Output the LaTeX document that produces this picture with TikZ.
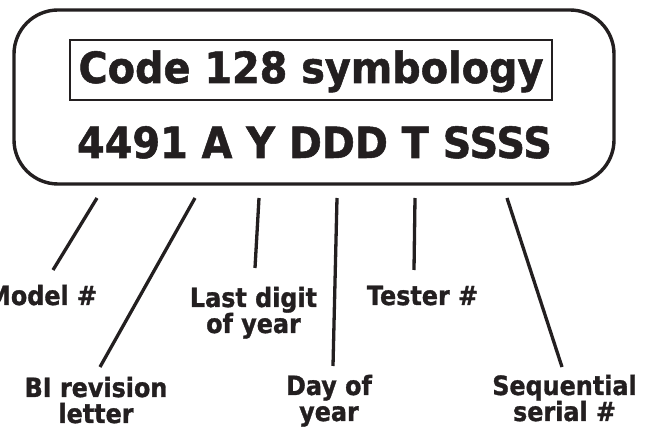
\documentclass[tikz,border=0pt]{standalone}
\usepackage{fontspec}
\setmainfont{DejaVu Sans}
\newfontfamily\lblfont[FakeStretch=0.9,FakeBold=1.2]{DejaVu Sans}
\newfontfamily\bigfont[FakeStretch=0.925,FakeBold=1.2]{DejaVu Sans}
\definecolor{ink}{HTML}{231F20}
\begin{document}
\begin{tikzpicture}[x=1pt,y=-1pt,
  every node/.style={text=ink, inner sep=0pt, outer sep=0pt},
  bigtext/.style={font=\bigfont\bfseries\fontsize{43}{43}\selectfont},
  lbl/.style={font=\lblfont\bfseries\fontsize{26.5}{26}\selectfont, align=center},
  leader/.style={draw=ink, line width=3.3pt},
]
\useasboundingbox[fill=white] (0,0) rectangle (654,430);
% outer rounded box
\draw[draw=ink, line width=3.4pt, rounded corners=44pt] (14,10) rectangle (614,184);
% title
\node[draw=ink, line width=1.2pt, minimum width=482pt, minimum height=60pt] (titlebox) at (311,70) {};
\node[bigtext, anchor=base] (title) at (311,83) {Code 128 symbology};
\node[bigtext, anchor=base] (code) at (314.5,158) {4491 A Y DDD T SSSS};
% labels (base anchor = baseline of the last line)
\node[lbl, anchor=base east] (model) at (97,305) {Model \#};
\node[lbl, anchor=base] (last) at (253.5,333) {Last digit\\of year};
\node[lbl, anchor=base] (tester) at (422.5,305) {Tester \#};
\node[lbl, anchor=base] (bi) at (96,423) {BI revision\\letter};
\node[lbl, anchor=base] (day) at (329,421) {Day of\\year};
\node[lbl, anchor=base] (seq) at (564.5,421) {Sequential\\serial \#};
% leader end points
\coordinate (m1) at (97,198);  \coordinate (m2) at (53,270);
\coordinate (b1) at (195,198); \coordinate (b2) at (100,367);
\coordinate (l1) at (259,198); \coordinate (l2) at (255,268);
\coordinate (d1) at (337,198); \coordinate (d2) at (333,366);
\coordinate (t1) at (415,198); \coordinate (t2) at (414,270);
\coordinate (s1) at (507,198); \coordinate (s2) at (562,367);
\draw[leader] (m1) -- (m2);
\draw[leader] (b1) -- (b2);
\draw[leader] (l1) -- (l2);
\draw[leader] (d1) -- (d2);
\draw[leader] (t1) -- (t2);
\draw[leader] (s1) -- (s2);
\end{tikzpicture}
\end{document}
